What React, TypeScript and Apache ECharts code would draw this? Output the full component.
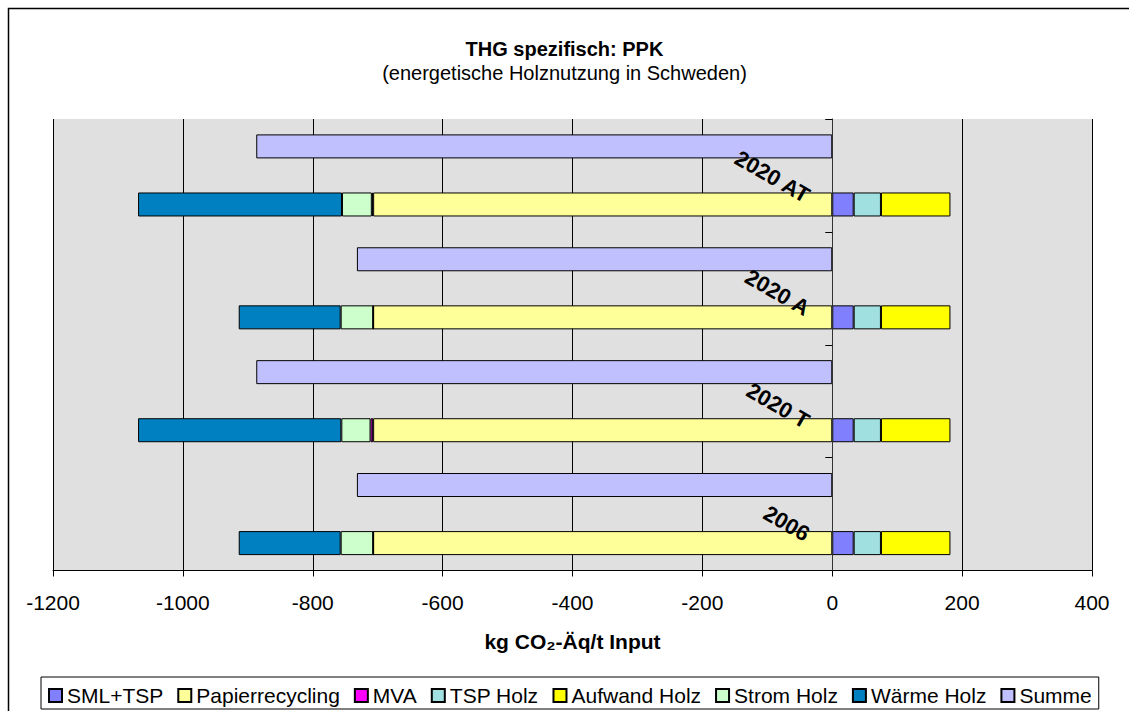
import React, { useEffect, useRef } from "react";
import * as echarts from "echarts";

const categories = ["2006", "2020 T", "2020 A", "2020 AT"];
const smlTsp = [33, 33, 33, 33];
const papierrecycling = [-707, -707, -707, -707];
const mva = [0, -4, 0, -2];
const tspHolz = [42, 42, 42, 42];
const aufwandHolz = [107, 107, 107, 107];
const stromHolz = [-50, -45, -50, -46];
const waermeHolz = [-157, -313, -157, -314];
const summe = [-732, -887, -732, -887];
const xTicks = { min: -1200, max: 400, interval: 200 };

const FONT = "'Liberation Sans', Arial, sans-serif";
const GRID_LEFT = 53;

export default function App() {
  const ref = useRef<HTMLDivElement>(null);
  useEffect(() => {
    if (!ref.current) return;
    const chart = echarts.init(ref.current, null, { renderer: "svg" });
    const barBase = {
      type: "bar",
      barWidth: 24,
      barGap: "142%",
      itemStyle: { borderColor: "#000", borderWidth: 1 },
    };
    const stacked = (name: string, data: number[], color: string) => ({
      ...barBase,
      name,
      stack: "total",
      data,
      itemStyle: { ...barBase.itemStyle, color },
    });
    chart.setOption({
      animation: false,
      textStyle: { fontFamily: FONT },
      graphic: [
        {
          type: "rect",
          shape: { x: 8.5, y: 8.5, width: 3000, height: 3000 },
          style: { fill: "none", stroke: "#000", lineWidth: 1.5 },
          silent: true,
        },
      ],
      title: [
        {
          text: "THG spezifisch: PPK",
          left: "center",
          top: 39,
          padding: 0,
          textStyle: { fontSize: 20, fontWeight: "bold", color: "#000", fontFamily: FONT },
        },
        {
          text: "(energetische Holznutzung in Schweden)",
          left: "center",
          top: 63,
          padding: 0,
          textStyle: { fontSize: 20, fontWeight: "normal", color: "#000", fontFamily: FONT },
        },
      ],
      legend: {
        left: 41,
        top: 677,
        padding: [8, 7, 3, 7],
        itemWidth: 13,
        itemHeight: 13,
        itemGap: 14,
        borderColor: "#000",
        borderWidth: 1,
        icon: "rect",
        textStyle: { fontSize: 21, color: "#000", fontFamily: FONT },
        data: [
          "SML+TSP",
          "Papierrecycling",
          "MVA",
          "TSP Holz",
          "Aufwand Holz",
          "Strom Holz",
          "Wärme Holz",
          "Summe",
        ],
      },
      grid: {
        left: GRID_LEFT,
        right: 37,
        top: 119,
        bottom: 140.5,
        show: true,
        backgroundColor: "#E0E0E0",
        borderWidth: 0,
        containLabel: false,
        outerBoundsMode: "none",
      },
      xAxis: {
        type: "value",
        min: xTicks.min,
        max: xTicks.max,
        interval: xTicks.interval,
        name: "kg CO₂-Äq/t Input",
        nameLocation: "middle",
        nameGap: 60,
        nameTextStyle: { fontSize: 21, fontWeight: "bold", color: "#000", fontFamily: FONT },
        axisLine: { show: true, lineStyle: { color: "#000", width: 1 } },
        axisTick: { show: true, length: 6, lineStyle: { color: "#000" } },
        axisLabel: {
          fontSize: 21,
          color: "#000",
          margin: 21,
          fontFamily: FONT,
          formatter: (v: number) => String(v),
        },
        splitLine: { show: true, lineStyle: { color: "#000", width: 1 } },
      },
      yAxis: {
        type: "category",
        data: categories,
        position: "left",
        offset: 0,
        z: 10,
        axisLine: { show: true, onZero: false, lineStyle: { color: "#333", width: 1 } },
        axisTick: { show: true, length: 7, lineStyle: { color: "#000" } },
        axisLabel: {
          interval: 0,
          rotate: -30,
          margin: 12,
          lineHeight: 25,
          formatter: (v: string) => "\n\n" + v,
          fontSize: 22,
          fontWeight: "bold",
          color: "#000",
          fontFamily: FONT,
        },
        splitLine: { show: false },
      },
      series: [
        {
          ...barBase,
          name: "Summe",
          data: summe,
          itemStyle: { ...barBase.itemStyle, color: "#C0C0FF" },
        },
        stacked("SML+TSP", smlTsp, "#8080FF"),
        stacked("Papierrecycling", papierrecycling, "#FFFF99"),
        stacked("MVA", mva, "#FF00FF"),
        stacked("TSP Holz", tspHolz, "#A0E0E0"),
        stacked("Aufwand Holz", aufwandHolz, "#FFFF00"),
        stacked("Strom Holz", stromHolz, "#CCFFCC"),
        stacked("Wärme Holz", waermeHolz, "#0080C0"),
      ],
    });
    const x0 = chart.convertToPixel({ xAxisIndex: 0 }, 0) as number;
    chart.setOption({ yAxis: { offset: -(x0 - GRID_LEFT) } });
    return () => chart.dispose();
  }, []);
  return (
    <div
      ref={ref}
      style={{ position: "fixed", left: 0, top: 0, width: 1129, height: 711, background: "#fff" }}
    />
  );
}
